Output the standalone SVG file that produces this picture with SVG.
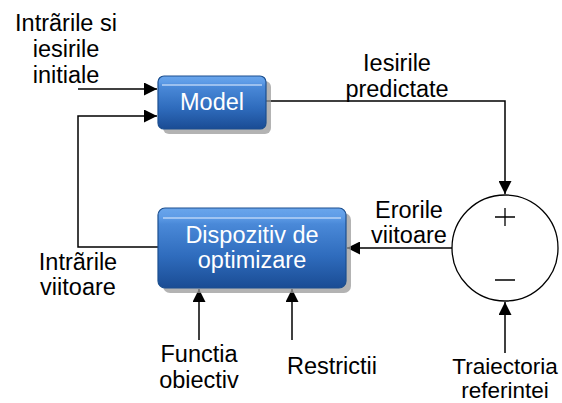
<svg xmlns="http://www.w3.org/2000/svg" width="562" height="403" viewBox="0 0 562 403">
<style>
.t{font-family:"Liberation Sans",Arial,sans-serif;font-size:23.5px;fill:#000;text-anchor:middle}
.s{font-size:22.5px}
.w{font-family:"Liberation Sans",Arial,sans-serif;font-size:23.5px;fill:#fff;text-anchor:middle}
.c{fill:none;stroke:#000;stroke-width:1.5}
.box{fill:url(#g);stroke:#1c4f8f;stroke-width:1.2}
.sh{fill:#9a9a9a;opacity:0.75}
.hl{fill:none;stroke:#cfe2fb;stroke-width:1.5;opacity:0.8}
</style>
<defs>
<linearGradient id="g" x1="0" y1="0" x2="0" y2="1">
<stop offset="0" stop-color="#6aa6ec"/>
<stop offset="0.12" stop-color="#5d9be6"/>
<stop offset="0.2" stop-color="#4a89d8"/>
<stop offset="0.6" stop-color="#2f6cbd"/>
<stop offset="1" stop-color="#1a4c94"/>
</linearGradient>
<marker id="a" viewBox="0 0 12 12" refX="12" refY="6" markerWidth="13" markerHeight="13" markerUnits="userSpaceOnUse" orient="auto">
<path d="M0,0 L12,6 L0,12 Z" fill="#000"/>
</marker>
</defs>
<rect width="562" height="403" fill="#fff"/>
<g id="connectors">
<path class="c" d="M78,89 H157" marker-end="url(#a)"/>
<path class="c" d="M158,247 H78 V116 H157" marker-end="url(#a)"/>
<path class="c" d="M266,101 H505 V194" marker-end="url(#a)"/>
<path class="c" d="M452,248 H347" marker-end="url(#a)"/>
<path class="c" d="M199,340 V289" marker-end="url(#a)"/>
<path class="c" d="M292,340 V289" marker-end="url(#a)"/>
<path class="c" d="M505,353 V302" marker-end="url(#a)"/>
</g>
<g id="model">
<rect class="sh" x="163" y="81" width="108" height="53" rx="6"/>
<rect class="box" x="158" y="76" width="108" height="53" rx="6"/>
<path class="hl" d="M162,85 H262"/>
<text class="w" x="212" y="110">Model</text>
</g>
<g id="dispozitiv">
<rect class="sh" x="163" y="213" width="188" height="80" rx="7"/>
<rect class="box" x="158" y="208" width="188" height="80" rx="7"/>
<path class="hl" d="M163,218 H341"/>
<text class="w" x="252" y="243">Dispozitiv de</text>
<text class="w" x="252" y="268">optimizare</text>
</g>
<g id="sumator">
<circle cx="505" cy="248" r="53" fill="#fff" stroke="#000" stroke-width="1.3"/>
<path d="M495,217 H515 M505,208 V226 M495,280 H515" stroke="#000" stroke-width="1.3" fill="none"/>
</g>
<g id="labels">
<text class="t" x="66" y="31">Intrãrile si</text>
<text class="t" x="66" y="57">iesirile</text>
<text class="t" x="66" y="83">initiale</text>
<text class="t" x="397" y="71">Iesirile</text>
<text class="t" x="397" y="97">predictate</text>
<text class="t" x="409" y="218">Erorile</text>
<text class="t" x="409" y="243">viitoare</text>
<text class="t" x="78" y="270">Intrãrile</text>
<text class="t" x="78" y="295">viitoare</text>
<text class="t" x="199" y="362">Functia</text>
<text class="t" x="199" y="388">obiectiv</text>
<text class="t" x="332" y="374">Restrictii</text>
<text class="t s" x="505" y="374">Traiectoria</text>
<text class="t s" x="505" y="398">referintei</text>
</g>
</svg>
